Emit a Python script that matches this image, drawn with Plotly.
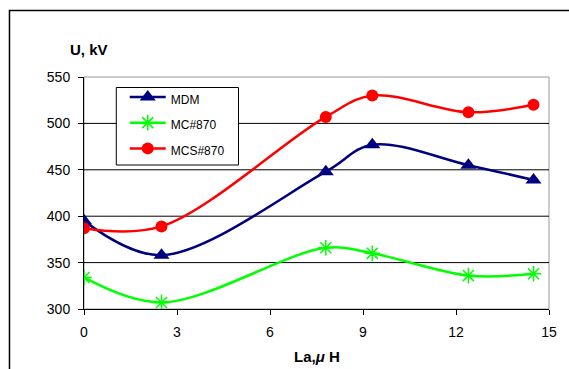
import plotly.graph_objects as go

x_vals = [0, 2.5, 7.8, 9.3, 12.4, 14.5]
mdm = [395, 358, 448, 477, 455, 439]
mc870 = [334, 307, 366, 360, 336, 338]
mcs870 = [387, 389, 507, 530, 512, 520]
x_ticks = [0, 3, 6, 9, 12, 15]
y_ticks = [300, 350, 400, 450, 500, 550]

W, H = 569, 369
L, R, T, B = 84, 17, 77, 60
pw, ph = W - L - R, H - T - B

def px(xp):
    return (xp - L) / pw

def py(yp):
    return (H - B - yp) / ph

def leg(name):
    return "<span style='font-size:12px'>" + name + "</span>"

fig = go.Figure()
fig.add_trace(go.Scatter(x=x_vals, y=mdm, name=leg("MDM"), mode="lines+markers",
                         line=dict(color="#000080", width=2.5, shape="spline", smoothing=1),
                         marker=dict(symbol="triangle-up", size=14, color="#000080")))
fig.add_trace(go.Scatter(x=x_vals, y=mc870, name=leg("MC#870"), mode="lines+markers",
                         line=dict(color="#00FF00", width=2.5, shape="spline", smoothing=1),
                         marker=dict(symbol="asterisk-open", size=13, color="#00FF00",
                                     line=dict(color="#00FF00", width=1.5))))
fig.add_trace(go.Scatter(x=x_vals, y=mcs870, name=leg("MCS#870"), mode="lines+markers",
                         line=dict(color="#FF0000", width=2.5, shape="spline", smoothing=1),
                         marker=dict(symbol="circle", size=12, color="#FF0000")))

font = dict(family="Liberation Sans, Arial", size=14, color="black")

shapes = [
    dict(type="rect", xref="paper", yref="paper", x0=0, x1=1, y0=0, y1=1,
         line=dict(color="#999999", width=1), layer="below"),
    dict(type="rect", xref="paper", yref="paper", x0=px(9), x1=px(590),
         y0=py(390), y1=py(10.5), line=dict(color="black", width=1.5)),
    dict(type="rect", xref="paper", yref="paper", x0=px(116.5), x1=px(239.5),
         y0=py(165), y1=py(87.5), line=dict(color="black", width=1),
         fillcolor="white", layer="above"),
]
for yv in y_ticks[1:-1]:
    shapes.append(dict(type="line", xref="paper", yref="y", x0=0, x1=1, y0=yv, y1=yv,
                       line=dict(color="black", width=1), layer="below"))

fig.update_layout(
    width=W, height=H,
    margin=dict(l=L, r=R, t=T, b=B),
    paper_bgcolor="white", plot_bgcolor="white",
    font=font,
    showlegend=True,
    legend=dict(x=px(125), y=py(79), xanchor="left", yanchor="top",
                bgcolor="rgba(0,0,0,0)", borderwidth=0,
                font=dict(family="Liberation Sans, Arial", size=17.5, color="black"),
                itemwidth=36, tracegroupgap=0),
    xaxis=dict(range=[0, 15], tickvals=x_ticks, ticks="outside", ticklen=5,
               tickcolor="black", showline=True, linecolor="black", linewidth=1,
               showgrid=False, zeroline=False, tickfont=font, ticklabelstandoff=5),
    yaxis=dict(range=[300, 550], tickvals=y_ticks, ticks="outside", ticklen=5,
               tickcolor="black", showline=True, linecolor="black", linewidth=1,
               showgrid=False, zeroline=False, tickfont=font, ticklabelstandoff=5),
    shapes=shapes,
    annotations=[
        dict(text="<b>U, kV</b>", xref="paper", yref="paper", x=px(68), y=py(49),
             xanchor="left", yanchor="middle", showarrow=False,
             font=dict(family="Liberation Sans, Arial", size=15, color="black")),
        dict(text="<b>La,<i>μ</i> H</b>", xref="paper", yref="paper", x=px(318), y=py(356),
             xanchor="center", yanchor="middle", showarrow=False,
             font=dict(family="Liberation Sans, Arial", size=15, color="black")),
    ],
)

fig.write_html("out.html", config={"displayModeBar": False},
               post_script="document.body.style.margin='0';")
